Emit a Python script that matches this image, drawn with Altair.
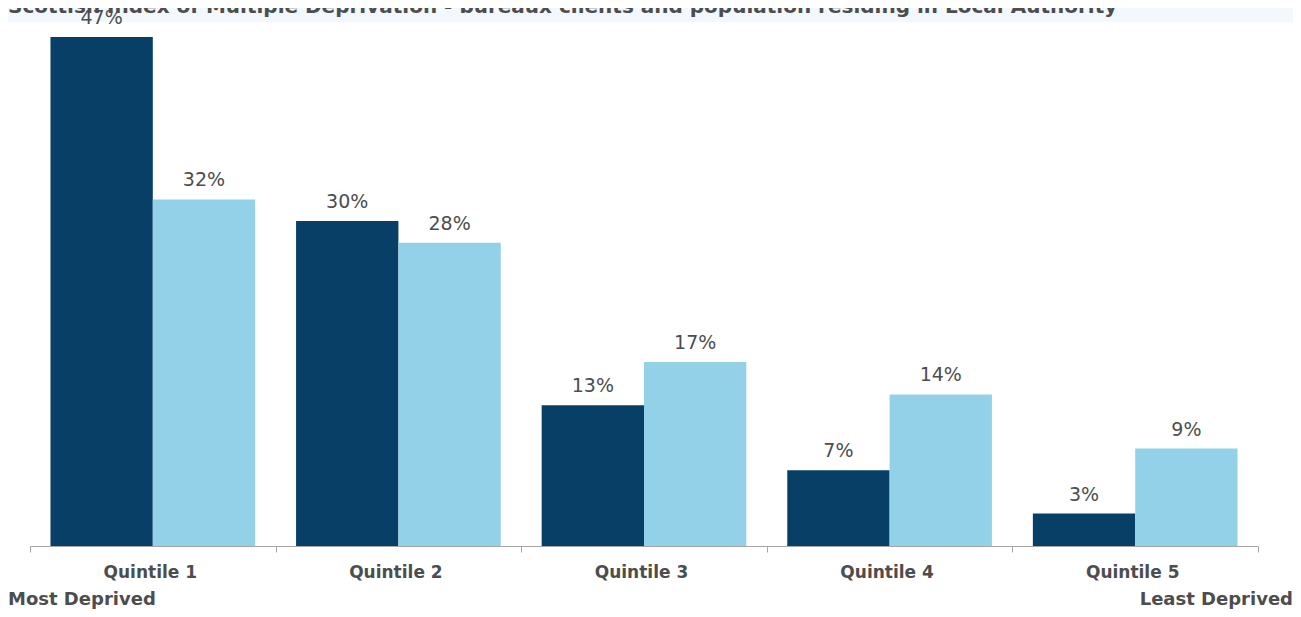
import altair as alt
import pandas as pd

categories = ["Quintile 1", "Quintile 2", "Quintile 3", "Quintile 4", "Quintile 5"]
series = ["Bureaux clients", "Population residing in Local Authority"]
clients = [47, 30, 13, 7, 3]
population = [32, 28, 17, 14, 9]
title_text = "Scottish Index of Multiple Deprivation - bureaux clients and population residing in Local Authority"
left_note = "Most Deprived"
right_note = "Least Deprived"

rows = []
for c, a, b in zip(categories, clients, population):
    rows.append({"quintile": c, "series": series[0], "value": a})
    rows.append({"quintile": c, "series": series[1], "value": b})
df = pd.DataFrame(rows)

FONT = "DejaVu Sans"
TXT = "#4d4d4d"
W, H = 1228, 509

x_enc = alt.X("quintile:N", sort=categories,
              scale=alt.Scale(paddingInner=0, paddingOuter=0),
              axis=alt.Axis(title=None, tickBand="extent", domainColor="#a6a6a6",
                            tickColor="#a6a6a6", tickSize=6, labelAngle=0,
                            labelFont=FONT, labelFontSize=17, labelFontWeight="bold",
                            labelColor=TXT, labelPadding=12, labelOffset=-3))
xo = alt.XOffset("series:N", sort=series, scale=alt.Scale(paddingInner=0, paddingOuter=0.2))
y_enc = alt.Y("value:Q", scale=alt.Scale(domain=[0, 47], nice=False, zero=True), axis=None)

base = alt.Chart(df)

bars = base.mark_bar().encode(
    x=x_enc, xOffset=xo, y=y_enc,
    color=alt.Color("series:N", sort=series,
                    scale=alt.Scale(domain=series, range=["#073f66", "#92d1e8"]),
                    legend=None),
)

labels = base.mark_text(font=FONT, fontSize=19, color=TXT, baseline="bottom", dy=-9).transform_calculate(
    label="datum.value + '%'"
).encode(x=x_enc, xOffset=xo, y=y_enc, text="label:N")

band_df = pd.DataFrame({"t": [title_text]})
band = alt.Chart(band_df).mark_rect(color="#f3f8fe").encode(
    x=alt.value(-27), x2=alt.value(1271), y=alt.value(-40), y2=alt.value(-15))
title = alt.Chart(band_df).mark_text(font=FONT, fontSize=20, fontWeight="bold", color=TXT,
                                     align="left", baseline="alphabetic").encode(
    x=alt.value(-22), y=alt.value(-24), text="t:N")

notes_df = pd.DataFrame({"t": [left_note]})
note_l = alt.Chart(notes_df).mark_text(font=FONT, fontSize=18, fontWeight="bold", color=TXT,
                                       align="left", baseline="alphabetic").encode(
    x=alt.value(-22), y=alt.value(568), text="t:N")
notes_df2 = pd.DataFrame({"t": [right_note]})
note_r = alt.Chart(notes_df2).mark_text(font=FONT, fontSize=18, fontWeight="bold", color=TXT,
                                        align="right", baseline="alphabetic").encode(
    x=alt.value(1263), y=alt.value(568), text="t:N")

chart = alt.layer(band, title, bars, labels, note_l, note_r).properties(
    width=W, height=H,
    autosize=alt.AutoSizeParams(type="none"),
    padding={"left": 22, "top": 29, "right": 35, "bottom": 63},
).configure_view(stroke=None)

chart.save("out.html", embed_options={"renderer": "svg", "actions": False})
